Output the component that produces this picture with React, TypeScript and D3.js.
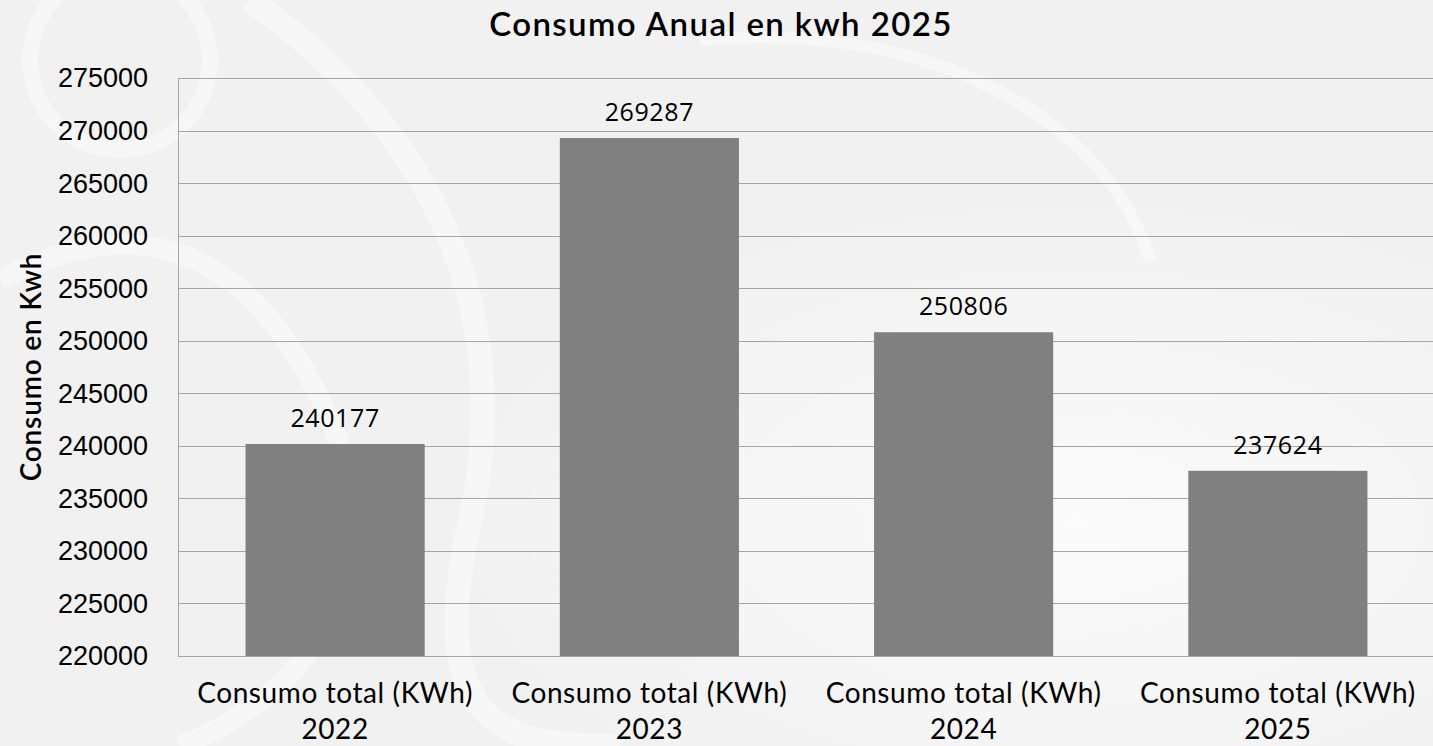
import React, { useEffect, useRef } from 'react';
import * as d3 from 'd3';

const categories = ['2022', '2023', '2024', '2025'];
const values = [240177, 269287, 250806, 237624];
const yTicks = [220000, 225000, 230000, 235000, 240000, 245000, 250000, 255000, 260000, 265000, 270000, 275000];
const labelPrefix = 'Consumo total (KWh)';

const App: React.FC = () => {
  const svgRef = useRef<SVGSVGElement>(null);

  useEffect(() => {
    if (!svgRef.current) return;
    const svg = d3.select(svgRef.current);
    svg.selectAll('*').remove();

    const width = 1433;
    const height = 746;
    const margin = { top: 78, right: -2, bottom: 90, left: 178 };

    // background with a faint watermark
    svg.append('rect').attr('width', width).attr('height', height).attr('fill', '#f1f1f1');
    const grad = svg.append('defs').append('radialGradient')
      .attr('id', 'glow').attr('cx', '0.75').attr('cy', '0.7').attr('r', '0.45');
    grad.append('stop').attr('offset', '0%').attr('stop-color', '#ffffff').attr('stop-opacity', 0.7);
    grad.append('stop').attr('offset', '100%').attr('stop-color', '#ffffff').attr('stop-opacity', 0);
    svg.append('rect').attr('width', width).attr('height', height).attr('fill', 'url(#glow)');
    const wm = svg.append('g').attr('fill', 'none').attr('stroke', '#ffffff').attr('opacity', 0.45);
    wm.append('circle').attr('cx', 120).attr('cy', 60).attr('r', 90).attr('stroke-width', 16);
    wm.append('path').attr('d', 'M0,280 C150,200 260,260 330,420 S300,700 180,746').attr('stroke-width', 20);
    wm.append('path').attr('d', 'M250,0 C420,120 520,300 470,520 S520,746 620,746').attr('stroke-width', 24);
    wm.append('path').attr('d', 'M700,40 C900,20 1100,100 1150,260').attr('stroke-width', 12);

    const x = d3.scaleBand()
      .domain(categories)
      .range([margin.left, width - margin.right])
      .paddingInner(0.43)
      .paddingOuter(0.215);

    const y = d3.scaleLinear()
      .domain([220000, 275000])
      .range([height - margin.bottom, margin.top]);

    // gridlines
    svg.append('g')
      .selectAll('line')
      .data(yTicks)
      .join('line')
      .attr('x1', margin.left)
      .attr('x2', width)
      .attr('y1', d => Math.round(y(d)) + 0.5)
      .attr('y2', d => Math.round(y(d)) + 0.5)
      .attr('stroke', '#a6a6a6')
      .attr('stroke-width', 1);

    // left axis line
    svg.append('line')
      .attr('x1', margin.left + 0.5).attr('x2', margin.left + 0.5)
      .attr('y1', y(275000)).attr('y2', y(220000))
      .attr('stroke', '#a6a6a6');

    // bars
    svg.append('g')
      .selectAll('rect')
      .data(values)
      .join('rect')
      .attr('x', (_, i) => x(categories[i])!)
      .attr('y', d => y(d))
      .attr('width', x.bandwidth())
      .attr('height', d => y(220000) - y(d))
      .attr('fill', '#808080');

    // value labels
    svg.append('g')
      .attr('font-family', 'Open Sans, sans-serif')
      .attr('font-size', 25)
      .attr('letter-spacing', 0.6)
      .attr('text-anchor', 'middle')
      .attr('fill', '#000')
      .selectAll('text')
      .data(values)
      .join('text')
      .attr('x', (_, i) => x(categories[i])! + x.bandwidth() / 2)
      .attr('y', d => y(d) - 17)
      .text(d => d);

    // y tick labels
    svg.append('g')
      .attr('font-family', 'Liberation Sans, Arial, sans-serif')
      .attr('font-size', 27)
      .attr('text-anchor', 'end')
      .attr('fill', '#000')
      .selectAll('text')
      .data(yTicks)
      .join('text')
      .attr('x', 148)
      .attr('y', d => y(d))
      .attr('dy', '0.35em')
      .text(d => d);

    // x labels
    const xl = svg.append('g')
      .attr('font-family', 'Lato, sans-serif')
      .attr('font-size', 28)
      .attr('letter-spacing', 0.6)
      .attr('text-anchor', 'middle')
      .attr('fill', '#000')
      .selectAll('text')
      .data(categories)
      .join('text')
      .attr('x', d => x(d)! + x.bandwidth() / 2)
      .attr('y', 703);
    xl.append('tspan').text(labelPrefix);
    xl.append('tspan')
      .attr('x', d => x(d)! + x.bandwidth() / 2)
      .attr('dy', 36)
      .text(d => d);

    // y axis title
    svg.append('text')
      .attr('transform', `translate(41,${(margin.top + height - margin.bottom) / 2}) rotate(-90)`)
      .attr('text-anchor', 'middle')
      .attr('font-family', 'Lato, sans-serif')
      .attr('font-size', 28)
      .attr('letter-spacing', 0.8)
      .attr('font-weight', 600)
      .attr('fill', '#000')
      .text('Consumo en Kwh');

    // title
    svg.append('text')
      .attr('x', 721)
      .attr('y', 36)
      .attr('text-anchor', 'middle')
      .attr('font-family', 'Lato, sans-serif')
      .attr('font-size', 33)
      .attr('letter-spacing', 1.4)
      .attr('font-weight', 600)
      .attr('fill', '#000')
      .text('Consumo Anual en kwh 2025');
  }, []);

  return (
    <svg
      ref={svgRef}
      width={1433}
      height={746}
      style={{ position: 'fixed', top: 0, left: 0, display: 'block' }}
    ></svg>
  );
};

export default App;
